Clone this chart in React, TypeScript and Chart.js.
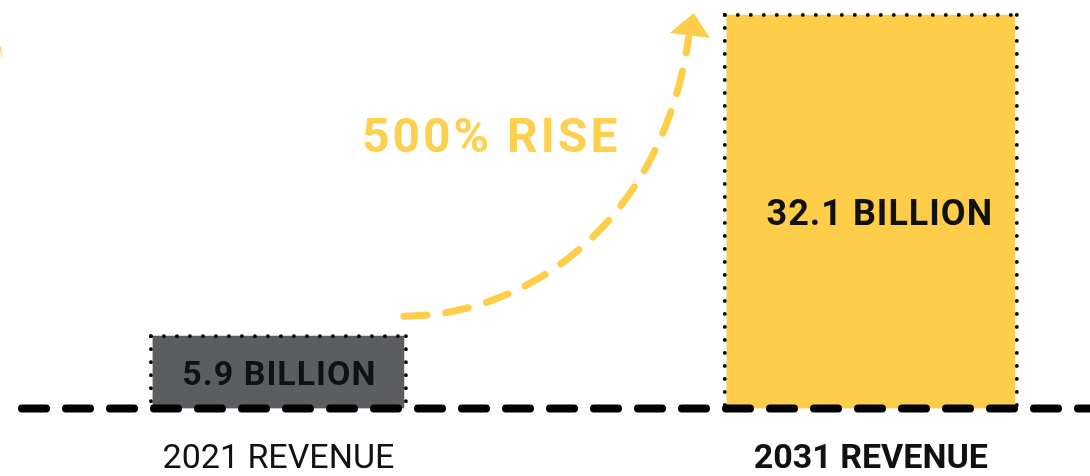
import React, { useEffect, useRef } from "react";
import { Chart, registerables } from "chart.js";

Chart.register(...registerables);

// ---- data ----
const years = [2021, 2031];
const categories = ["2021 REVENUE", "2031 REVENUE"];
const revenue = [5.9, 32.1];
const valueLabels = ["5.9 BILLION", "32.1 BILLION"];
const riseText = "500% RISE";

// ---- styles ----
const GRAY = "#5b5e61";
const YELLOW = "#fecd4a";
const TEXT_YELLOW = "#fed050";
const FONT = "Roboto";
const barWidths = [251, 288];
const labelSizes = [34, 36];
const labelSpacing = [1, 1];
const labelShift = [1, 9];

const decorPlugin = {
  id: "decor",
  afterDatasetsDraw(chart: any) {
    const ctx = chart.ctx as CanvasRenderingContext2D;
    const yScale = chart.scales.y;
    const bars = chart.data.datasets.map((_: any, i: number) => chart.getDatasetMeta(i).data[0]);
    const rects = bars.map((b: any) => {
      const p = b.getProps(["x", "y", "base", "width"], true);
      return { left: p.x - p.width / 2, right: p.x + p.width / 2, top: p.y, bottom: p.base, cx: p.x };
    });

    ctx.save();
    // dotted borders
    ctx.strokeStyle = "#000";
    ctx.lineWidth = 3.8;
    ctx.lineCap = "round";
    ctx.setLineDash([0, 13]);
    rects.forEach((r: any) => {
      const l = r.left - 2, rr = r.right + 2, t = r.top;
      const b = r.bottom;
      const seg = (x1: number, y1: number, x2: number, y2: number) => {
        ctx.beginPath();
        ctx.moveTo(x1, y1);
        ctx.lineTo(x2, y2);
        ctx.stroke();
      };
      seg(l, t, rr, t);
      seg(l, t, l, b);
      seg(rr, t, rr, b);
    });

    // dashed baseline
    const y0 = yScale.getPixelForValue(0);
    ctx.setLineDash([24, 20]);
    ctx.lineWidth = 8;
    ctx.strokeStyle = "#000";
    ctx.beginPath();
    ctx.moveTo(22, y0);
    ctx.lineTo(chart.width + 40, y0);
    ctx.stroke();

    // value labels inside bars
    ctx.setLineDash([]);
    ctx.fillStyle = "#111";
    ctx.textAlign = "center";
    ctx.textBaseline = "alphabetic";
    rects.forEach((r: any, i: number) => {
      ctx.font = `bold ${labelSizes[i]}px ${FONT}`;
      (ctx as any).letterSpacing = `${labelSpacing[i]}px`;
      const cy = (r.top + r.bottom) / 2;
      ctx.fillText(valueLabels[i], r.cx + labelShift[i], cy + labelSizes[i] * 0.36);
    });

    // curved dashed arrow
    const a = rects[0], z = rects[1];
    const p0 = { x: a.right, y: a.top - 20 };
    const p3 = { x: z.left - 38, y: z.top + 22 };
    ctx.strokeStyle = YELLOW;
    ctx.lineWidth = 7;
    ctx.lineCap = "round";
    ctx.setLineDash([23, 19]);
    ctx.beginPath();
    ctx.moveTo(p0.x, p0.y);
    ctx.bezierCurveTo(p0.x + 116, p0.y, p3.x - 28, p3.y + 194, p3.x, p3.y);
    ctx.stroke();
    ctx.setLineDash([]);
    ctx.fillStyle = YELLOW;
    ctx.beginPath();
    ctx.moveTo(p3.x + 5, p3.y - 24);
    ctx.lineTo(p3.x - 19, p3.y - 4);
    ctx.lineTo(p3.x + 21, p3.y + 1);
    ctx.closePath();
    ctx.fill();

    // rise text
    ctx.fillStyle = TEXT_YELLOW;
    ctx.font = `bold 48px ${FONT}`;
    (ctx as any).letterSpacing = "3px";
    ctx.textAlign = "left";
    ctx.fillText(riseText, 362, 152);
    (ctx as any).letterSpacing = "0px";

    // faint cropped mark at left edge
    ctx.strokeStyle = "rgba(254,205,74,0.6)";
    ctx.lineWidth = 2;
    ctx.beginPath();
    ctx.moveTo(0.5, 47);
    ctx.lineTo(1.5, 56);
    ctx.stroke();
    ctx.restore();
  },
};

export default function App() {
  const ref = useRef<HTMLCanvasElement>(null);
  useEffect(() => {
    document.body.style.margin = "0";
    const chart = new Chart(ref.current!, {
      type: "bar",
      data: {
        datasets: years.map((yr, i) => ({
          label: categories[i],
          data: [{ x: yr, y: revenue[i] }],
          backgroundColor: i === 0 ? GRAY : YELLOW,
          borderWidth: 0,
          barThickness: barWidths[i],
          grouped: false,
        })),
      } as any,
      options: {
        animation: false,
        responsive: false,
        layout: { padding: 0 },
        plugins: { legend: { display: false }, tooltip: { enabled: false } },
        scales: {
          x: {
            type: "linear",
            offset: false,
            min: 2016.3,
            max: 2034.7,
            afterBuildTicks: (scale: any) => {
              scale.ticks = years.map((v) => ({ value: v }));
            },
            afterFit: (scale: any) => {
              scale.height = 67.5;
            },
            grid: { display: false, drawTicks: false },
            border: { display: false },
            ticks: {
              padding: 34,
              color: "#111",
              autoSkip: false,
              maxRotation: 0,
              font: (c: any) => ({ family: FONT, size: 34, lineHeight: 1, weight: c.index === 1 ? "bold" : "normal" }),
              callback: (v: any) => categories[years.indexOf(Number(v))] ?? "",
            },
          },
          y: { display: false, min: 0, max: 33.32 },
        },
      } as any,
      plugins: [decorPlugin],
    });
    return () => chart.destroy();
  }, []);
  return (
    <div style={{ position: "fixed", left: 0, top: 0, width: 1090, height: 476, background: "#fff" }}>
      <canvas ref={ref} width={1090} height={476} />
    </div>
  );
}
